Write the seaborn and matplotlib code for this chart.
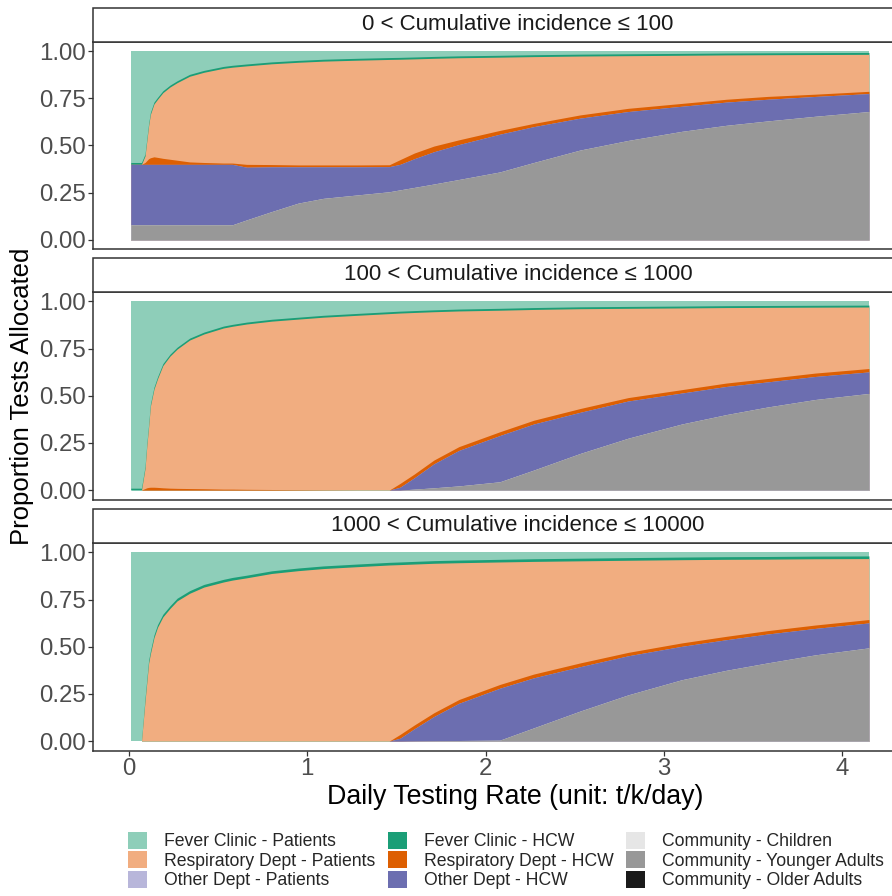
import matplotlib
matplotlib.use("Agg")
import matplotlib.pyplot as plt
from matplotlib.patches import Rectangle, Patch
import numpy as np
import pandas as pd
import seaborn as sns

# ---------------- data ----------------
x_rate = [0.01, 0.07, 0.09, 0.10, 0.11, 0.12, 0.14, 0.16, 0.19, 0.23, 0.27, 0.34,
          0.42, 0.53, 0.58, 0.66, 0.80, 0.95, 1.09, 1.28, 1.46, 1.52, 1.60, 1.71,
          1.85, 2.08, 2.27, 2.53, 2.80, 3.10, 3.35, 3.58, 3.85, 4.15]

panel_titles = ["0 < Cumulative incidence \u2264 100",
                "100 < Cumulative incidence \u2264 1000",
                "1000 < Cumulative incidence \u2264 10000"]

categories = ["Fever Clinic - Patients", "Respiratory Dept - Patients", "Other Dept - Patients",
              "Fever Clinic - HCW", "Respiratory Dept - HCW", "Other Dept - HCW",
              "Community - Children", "Community - Younger Adults", "Community - Older Adults"]
cat_colors = ["#8ECEB9", "#F1AD80", "#B8B6DA",
              "#1B9E77", "#DD5F02", "#6C6EB0",
              "#E6E6E6", "#989898", "#1A1A1A"]
# bottom -> top stacking order
stack_order = ["Community - Older Adults", "Community - Younger Adults", "Community - Children",
               "Other Dept - HCW", "Other Dept - Patients", "Respiratory Dept - HCW",
               "Respiratory Dept - Patients", "Fever Clinic - HCW", "Fever Clinic - Patients"]

# panel 1: 0 < CI <= 100
p1_comm_young = [0.08, 0.08, 0.08, 0.08, 0.08, 0.08, 0.08, 0.08, 0.08, 0.08, 0.08, 0.08,
                 0.08, 0.08, 0.08, 0.106, 0.15, 0.195, 0.22, 0.238, 0.255, 0.265, 0.278, 0.296,
                 0.32, 0.36, 0.41, 0.476, 0.527, 0.575, 0.607, 0.63, 0.655, 0.68]
p1_other_hcw = [0.32, 0.32, 0.32, 0.32, 0.32, 0.32, 0.32, 0.32, 0.32, 0.32, 0.32, 0.32,
                0.32, 0.32, 0.32, 0.279, 0.237, 0.192, 0.167, 0.149, 0.133, 0.135, 0.152, 0.171,
                0.185, 0.20, 0.19, 0.169, 0.153, 0.133, 0.123, 0.115, 0.105, 0.095]
p1_resp_hcw = [0.0, 0.0, 0.01, 0.02, 0.03, 0.035, 0.04, 0.037, 0.032, 0.027, 0.022, 0.013,
               0.01, 0.007, 0.007, 0.015, 0.012, 0.01, 0.01, 0.01, 0.01, 0.025, 0.03, 0.03,
               0.025, 0.02, 0.017, 0.017, 0.017, 0.015, 0.015, 0.015, 0.012, 0.012]
p1_resp_pat = [0.0, 0.0, 0.035, 0.105, 0.175, 0.23, 0.28, 0.308, 0.348, 0.383, 0.411, 0.454,
               0.478, 0.502, 0.508, 0.522, 0.534, 0.544, 0.55, 0.555, 0.558, 0.532, 0.499, 0.465,
               0.435, 0.388, 0.354, 0.312, 0.279, 0.255, 0.235, 0.221, 0.21, 0.196]
p1_fever_hcw = [0.01, 0.01, 0.01, 0.01, 0.01, 0.01, 0.01, 0.01, 0.01, 0.01, 0.01, 0.01,
                0.01, 0.01, 0.01, 0.01, 0.01, 0.01, 0.01, 0.01, 0.01, 0.01, 0.01, 0.01,
                0.01, 0.01, 0.01, 0.01, 0.01, 0.01, 0.01, 0.01, 0.01, 0.01]
p1_fever_pat = [0.59, 0.59, 0.545, 0.465, 0.385, 0.325, 0.27, 0.245, 0.21, 0.18, 0.157, 0.123,
                0.102, 0.081, 0.075, 0.068, 0.057, 0.049, 0.043, 0.038, 0.034, 0.033, 0.031, 0.028,
                0.025, 0.022, 0.019, 0.016, 0.014, 0.012, 0.01, 0.009, 0.008, 0.007]

# panel 2: 100 < CI <= 1000
p2_comm_young = [0.0, 0.0, 0.0, 0.0, 0.0, 0.0, 0.0, 0.0, 0.0, 0.0, 0.0, 0.0,
                 0.0, 0.0, 0.0, 0.0, 0.0, 0.0, 0.0, 0.0, 0.0, 0.0, 0.005, 0.012,
                 0.022, 0.044, 0.106, 0.194, 0.275, 0.35, 0.40, 0.44, 0.48, 0.512]
p2_other_hcw = [0.0, 0.0, 0.0, 0.0, 0.0, 0.0, 0.0, 0.0, 0.0, 0.0, 0.0, 0.0,
                0.0, 0.0, 0.0, 0.0, 0.0, 0.0, 0.0, 0.0, 0.0, 0.015, 0.06, 0.127,
                0.188, 0.245, 0.244, 0.218, 0.197, 0.164, 0.149, 0.133, 0.122, 0.114]
p2_resp_hcw = [0.0, 0.0, 0.008, 0.012, 0.014, 0.015, 0.015, 0.014, 0.012, 0.01, 0.009, 0.008,
               0.007, 0.005, 0.005, 0.004, 0.003, 0.002, 0.001, 0.0, 0.0, 0.02, 0.02, 0.02,
               0.02, 0.02, 0.02, 0.02, 0.018, 0.018, 0.018, 0.018, 0.018, 0.018]
p2_resp_pat = [0.0, 0.0, 0.107, 0.223, 0.321, 0.43, 0.52, 0.576, 0.648, 0.70, 0.738, 0.787,
               0.82, 0.854, 0.863, 0.876, 0.892, 0.904, 0.915, 0.926, 0.935, 0.903, 0.856, 0.786,
               0.719, 0.644, 0.587, 0.529, 0.473, 0.433, 0.40, 0.377, 0.349, 0.326]
p2_fever_hcw = [0.01, 0.01, 0.01, 0.01, 0.01, 0.01, 0.01, 0.01, 0.01, 0.01, 0.01, 0.01,
                0.01, 0.01, 0.01, 0.01, 0.01, 0.01, 0.01, 0.01, 0.01, 0.01, 0.01, 0.01,
                0.01, 0.01, 0.01, 0.01, 0.01, 0.01, 0.01, 0.01, 0.01, 0.01]
p2_fever_pat = [0.99, 0.99, 0.875, 0.755, 0.655, 0.545, 0.455, 0.40, 0.33, 0.28, 0.243, 0.195,
                0.163, 0.131, 0.122, 0.11, 0.095, 0.084, 0.074, 0.064, 0.055, 0.052, 0.049, 0.045,
                0.041, 0.037, 0.033, 0.029, 0.027, 0.025, 0.023, 0.022, 0.021, 0.02]

# panel 3: 1000 < CI <= 10000
p3_comm_young = [0.0, 0.0, 0.0, 0.0, 0.0, 0.0, 0.0, 0.0, 0.0, 0.0, 0.0, 0.0,
                 0.0, 0.0, 0.0, 0.0, 0.0, 0.0, 0.0, 0.0, 0.0, 0.0, 0.001, 0.002,
                 0.003, 0.005, 0.07, 0.159, 0.245, 0.325, 0.375, 0.414, 0.457, 0.494]
p3_other_hcw = [0.0, 0.0, 0.0, 0.0, 0.0, 0.0, 0.0, 0.0, 0.0, 0.0, 0.0, 0.0,
                0.0, 0.0, 0.0, 0.0, 0.0, 0.0, 0.0, 0.0, 0.0, 0.015, 0.064, 0.128,
                0.197, 0.275, 0.265, 0.235, 0.207, 0.177, 0.162, 0.153, 0.14, 0.132]
p3_resp_hcw = [0.0, 0.0, 0.0, 0.0, 0.0, 0.0, 0.0, 0.0, 0.0, 0.0, 0.0, 0.0,
               0.0, 0.0, 0.0, 0.0, 0.0, 0.0, 0.0, 0.0, 0.0, 0.02, 0.02, 0.02,
               0.02, 0.02, 0.02, 0.02, 0.018, 0.018, 0.018, 0.018, 0.018, 0.018]
p3_resp_pat = [0.0, 0.0, 0.213, 0.313, 0.413, 0.463, 0.548, 0.603, 0.658, 0.703, 0.743, 0.783,
               0.816, 0.843, 0.853, 0.865, 0.888, 0.903, 0.914, 0.924, 0.933, 0.90, 0.853, 0.792,
               0.725, 0.649, 0.597, 0.541, 0.488, 0.441, 0.408, 0.379, 0.351, 0.323]
p3_fever_hcw = [0.0, 0.0, 0.014, 0.014, 0.014, 0.014, 0.014, 0.014, 0.014, 0.014, 0.014, 0.014,
                0.014, 0.014, 0.014, 0.014, 0.014, 0.014, 0.014, 0.014, 0.014, 0.014, 0.014, 0.014,
                0.014, 0.014, 0.014, 0.014, 0.014, 0.014, 0.014, 0.014, 0.014, 0.014]
p3_fever_pat = [1.0, 1.0, 0.773, 0.673, 0.573, 0.523, 0.438, 0.383, 0.328, 0.283, 0.243, 0.203,
                0.17, 0.143, 0.133, 0.121, 0.098, 0.083, 0.072, 0.062, 0.053, 0.051, 0.048, 0.044,
                0.041, 0.037, 0.034, 0.031, 0.028, 0.025, 0.023, 0.022, 0.02, 0.019]

zero_series = [0.0] * len(x_rate)

panel_series = [
    {"Fever Clinic - Patients": p1_fever_pat, "Fever Clinic - HCW": p1_fever_hcw,
     "Respiratory Dept - Patients": p1_resp_pat, "Respiratory Dept - HCW": p1_resp_hcw,
     "Other Dept - Patients": zero_series, "Other Dept - HCW": p1_other_hcw,
     "Community - Children": zero_series, "Community - Younger Adults": p1_comm_young,
     "Community - Older Adults": zero_series},
    {"Fever Clinic - Patients": p2_fever_pat, "Fever Clinic - HCW": p2_fever_hcw,
     "Respiratory Dept - Patients": p2_resp_pat, "Respiratory Dept - HCW": p2_resp_hcw,
     "Other Dept - Patients": zero_series, "Other Dept - HCW": p2_other_hcw,
     "Community - Children": zero_series, "Community - Younger Adults": p2_comm_young,
     "Community - Older Adults": zero_series},
    {"Fever Clinic - Patients": p3_fever_pat, "Fever Clinic - HCW": p3_fever_hcw,
     "Respiratory Dept - Patients": p3_resp_pat, "Respiratory Dept - HCW": p3_resp_hcw,
     "Other Dept - Patients": zero_series, "Other Dept - HCW": p3_other_hcw,
     "Community - Children": zero_series, "Community - Younger Adults": p3_comm_young,
     "Community - Older Adults": zero_series},
]

rows = []
for title, series in zip(panel_titles, panel_series):
    for cat, vals in series.items():
        for xv, yv in zip(x_rate, vals):
            rows.append((title, cat, xv, yv))
df = pd.DataFrame(rows, columns=["panel", "category", "rate", "prop"])

color_map = dict(zip(categories, cat_colors))

# ---------------- plot ----------------
sns.set_theme(style="white")
plt.rcParams["font.family"] = ["Liberation Sans", "DejaVu Sans"]

W, H = 892, 896
BORDER = "#333333"


def draw_stack(data, **kws):
    ax = plt.gca()
    wide = data.pivot(index="rate", columns="category", values="prop")[stack_order]
    cum = wide.cumsum(axis=1)
    for cat in reversed(stack_order):
        ax.fill_between(cum.index.values, 0, cum[cat].values,
                        color=color_map[cat], linewidth=0)


g = sns.FacetGrid(df, row="panel", row_order=panel_titles, height=2.6, aspect=3.4,
                  sharex=True, sharey=True, despine=False)
g.map_dataframe(draw_stack)
g.set_titles("")
g.set_axis_labels("", "")
fig = g.figure
fig.set_size_inches(W / 100, H / 100)
fig.set_dpi(100)

ax_left = 93.3
ax_right = 943.0
px_per_unit = 178.3
x0 = -(129.0 - ax_left) / px_per_unit
x1 = x0 + (ax_right - ax_left) / px_per_unit
panel_bottoms = [249.3, 499.5, 750.5]
panel_h = 207.6
strip_h = 34.0

for i, ax in enumerate(g.axes.flat):
    ax.set_position([ax_left / W, 1 - panel_bottoms[i] / H,
                     (ax_right - ax_left) / W, panel_h / H])
    ax.set_xlim(x0, x1)
    ax.set_ylim(-0.05, 1.05)
    ax.set_yticks([0, 0.25, 0.5, 0.75, 1.0])
    ax.set_yticklabels(["0.00", "0.25", "0.50", "0.75", "1.00"])
    ax.set_xticks([0, 1, 2, 3, 4])
    ax.set_facecolor("white")
    for sp in ax.spines.values():
        sp.set_color(BORDER)
        sp.set_linewidth(1.1)
        sp.set_visible(True)
    ax.tick_params(axis="both", which="both", length=3.3, width=0.9, color=BORDER,
                   labelsize=17.3, labelcolor="#4D4D4D", pad=2, direction="out",
                   left=True, bottom=True)
    if i < 2:
        ax.tick_params(axis="x", labelbottom=False, bottom=False)
    ax.grid(False)
    # facet strip
    sh = strip_h / panel_h
    ax.add_patch(Rectangle((0, 1), 1, sh, transform=ax.transAxes, clip_on=False,
                           facecolor="white", edgecolor=BORDER, linewidth=1.1, zorder=5))
    ax.text(0.5, 1 + sh / 2, panel_titles[i], transform=ax.transAxes, ha="center",
            va="center", fontsize=16, color="#1A1A1A", zorder=6)

fig.text(515 / W, 1 - 797 / H, "Daily Testing Rate (unit: t/k/day)", ha="center",
         va="center", fontsize=19.3, color="black")
fig.text(22 / W, 1 - 396 / H, "Proportion Tests Allocated", ha="center", va="center",
         rotation=90, fontsize=18.5, color="black")

# legend: three columns
col_x = [128, 388, 626]
for c in range(3):
    handles = [Patch(facecolor=color_map[categories[c * 3 + r]], edgecolor="none",
                     label=categories[c * 3 + r]) for r in range(3)]
    fig.legend(handles=handles, loc="upper left",
               bbox_to_anchor=(col_x[c] / W, 1 - 832 / H), frameon=False,
               fontsize=12.7, handlelength=1.1, handleheight=1.1, handletextpad=0.95,
               labelspacing=0.05, borderpad=0, borderaxespad=0)

fig.savefig("out.png", dpi=100)
